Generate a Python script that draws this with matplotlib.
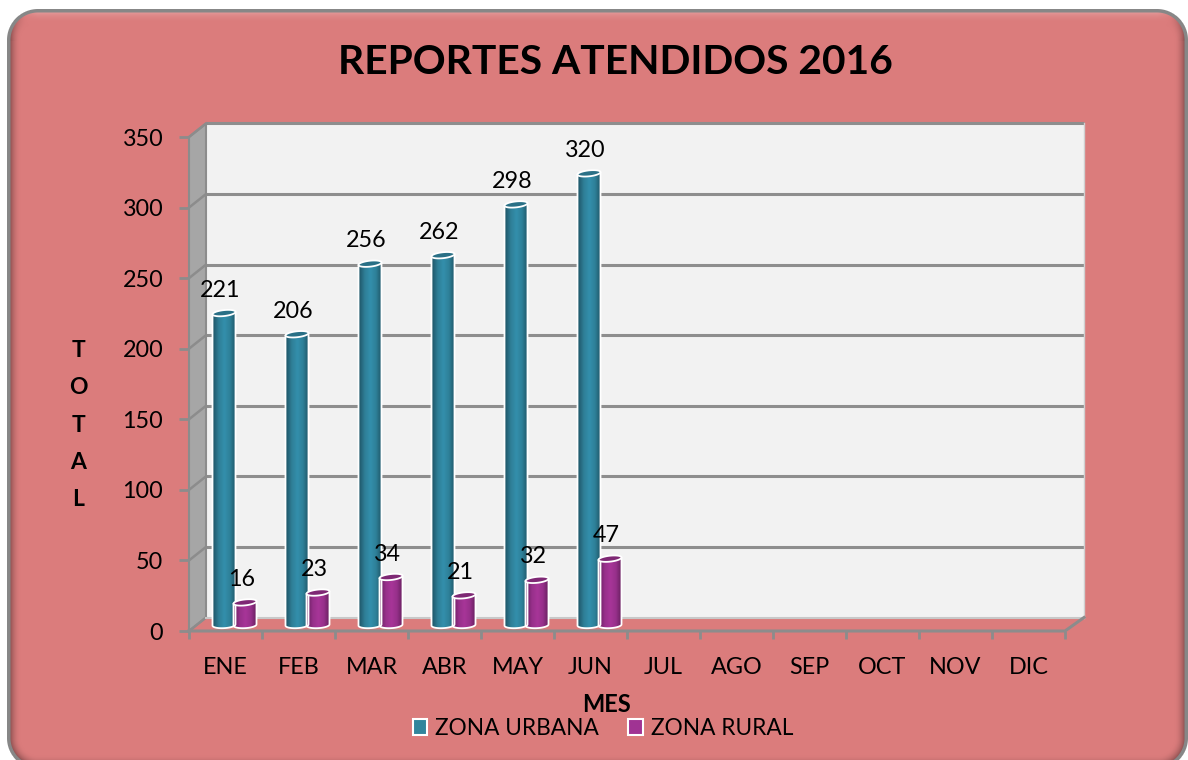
import numpy as np
import matplotlib
matplotlib.use("Agg")
import matplotlib.pyplot as plt
from matplotlib.colors import LinearSegmentedColormap
from matplotlib.patches import Patch, Polygon

months = ["ENE", "FEB", "MAR", "ABR", "MAY", "JUN", "JUL", "AGO", "SEP", "OCT", "NOV", "DIC"]
urbana = [221, 206, 256, 262, 298, 320]
rural = [16, 23, 34, 21, 32, 47]
yticks = [0, 50, 100, 150, 200, 250, 300, 350]
title = "REPORTES ATENDIDOS 2016"
series_names = ["ZONA URBANA", "ZONA RURAL"]

W, H = 1188, 760
PINK = np.array([219, 124, 124]) / 255
GRAY = "#8C8C8C"
plt.rcParams["font.family"] = ["Lato", "DejaVu Sans"]

fig = plt.figure(figsize=(W / 100, H / 100), dpi=100, facecolor="white")

# ---- bevelled rounded panel
bg = fig.add_axes([0, 0, 1, 1], zorder=0)
bg.axis("off")
yy, xx = np.mgrid[0:H, 0:W] + 0.5
x0, y0, x1, y1, r = 8, 10, 1187, 768, 30
cx, cy = (x0 + x1) / 2, (y0 + y1) / 2
qx = np.abs(xx - cx) - ((x1 - x0) / 2 - r)
qy = np.abs(yy - cy) - ((y1 - y0) / 2 - r)
sd = np.hypot(np.maximum(qx, 0), np.maximum(qy, 0)) + np.minimum(np.maximum(qx, qy), 0) - r
gy, gx = np.gradient(sd)
depth = np.clip(-sd / 13, 0, 1)
bevel = (1 - depth) ** 2
shade = np.where(gy < 0, -gy * 0.32 * bevel, -gy * 0.5 * bevel) - np.abs(gx) * 0.55 * bevel
shade = np.where(gy >= 0, -np.hypot(gx, gy) * 0.5 * bevel, shade)
img = np.zeros((H, W, 3)) + PINK
img = np.where(shade[..., None] > 0, img + (1 - img) * shade[..., None], img * (1 + shade[..., None]))
edge = np.clip(sd + 3, 0, 1)[..., None]
img = img * (1 - edge) + np.array([0.53, 0.53, 0.53]) * edge
out = np.clip(sd - 0.5, 0, 1)[..., None]
img = img * (1 - out) + out
bg.imshow(np.clip(img, 0, 1), extent=[0, W, H, 0], aspect="auto", interpolation="bilinear")

# ---- front-plane axes
L, R, T, B = 189, 1065, 137, 631
ax = fig.add_axes([L / W, 1 - B / H, (R - L) / W, (B - T) / H], zorder=1)
ax.patch.set_alpha(0)
ax.set_xlim(0, 12)
ax.set_ylim(0, 350)
pxx = 12 / (R - L)
pxy = 350 / (B - T)
for s in ax.spines.values():
    s.set_visible(False)

DX, DY = 17 * pxx, 13.5 * pxy
WALL_W = 12 + 19 * pxx - DX

# walls
ax.add_patch(plt.Rectangle((DX, DY), WALL_W, 350, fc="#F2F2F2", ec="none", zorder=1, clip_on=False))
ax.add_patch(Polygon([(0, 0), (DX, DY), (DX, 350 + DY), (0, 350)], fc="#A6A6A6", ec=GRAY, lw=1.5, zorder=1, clip_on=False))
for v in yticks:
    if v > 0:
        ax.plot([DX, DX + WALL_W], [v + DY, v + DY], color="#8E8E8E", lw=2.2, zorder=2, clip_on=False, solid_capstyle="butt")
    ax.plot([0, DX], [v, v + DY], color=GRAY, lw=1.8, zorder=2, clip_on=False)
ax.plot([DX, DX + WALL_W], [DY, DY], color="#C8C8C8", lw=1.5, zorder=2, clip_on=False)
ax.plot([DX + WALL_W, DX + WALL_W], [DY, 350 + DY], color="#D0D0D0", lw=1, zorder=2, clip_on=False)
ax.plot([0, 12, DX + WALL_W], [0, 0, DY], color=GRAY, lw=2.2, zorder=2, clip_on=False)

# ticks and labels
ax.set_yticks(yticks)
ax.set_yticklabels([str(v) for v in yticks])
ax.set_xticks(np.arange(13))
ax.set_xticklabels([])
ax.set_xticks(np.arange(12) + 0.5, labels=months, minor=True)
ax.tick_params(axis="y", which="major", length=7, width=2, color=GRAY, labelsize=16.8, pad=11.5, labelcolor="black")
ax.tick_params(axis="x", which="major", length=6, width=2, color=GRAY)
ax.tick_params(axis="x", which="minor", length=0, labelsize=16.8, pad=19, labelcolor="black")

# ---- cylinders
BAR_W = 23 * pxx
RY = 3.5 * pxy
TILT = 1.2 * pxy
BASE = 6 * pxy
teal_cm = LinearSegmentedColormap.from_list("t", ["#1F5668", "#2F7F97", "#338FAC", "#2E8098", "#1E5566"])
purp_cm = LinearSegmentedColormap.from_list("p", ["#6A1F60", "#97308A", "#A83598", "#96308A", "#651E5C"])
grad = np.linspace(0, 1, 64)[None, :]


def cylinder(xc, v, cm, top_color):
    xl = xc - BAR_W / 2
    top = v + BASE
    t = np.linspace(np.pi, 2 * np.pi, 40)
    ex = xc + BAR_W / 2 * np.cos(t)
    ey = BASE + RY * 0.9 * np.sin(t) + TILT * np.cos(t) * 0.5
    etop_y = top + TILT * np.array([-1, 1])
    xs = np.r_[xl, ex, xl + BAR_W]
    ys = np.r_[etop_y[0], ey, etop_y[1]]
    im = ax.imshow(grad, cmap=cm, extent=[xl, xl + BAR_W, 0, top + RY], aspect="auto", zorder=4, interpolation="bilinear")
    body = Polygon(np.c_[xs, ys], closed=True, fc="none", ec="white", lw=1.3, zorder=5, clip_on=False, joinstyle="round")
    ax.add_patch(body)
    im.set_clip_path(body)
    a = np.linspace(0, 2 * np.pi, 60)
    cap = np.c_[xc + BAR_W / 2 * np.cos(a), top + RY * 0.85 * np.sin(a) + TILT * np.cos(a)]
    ax.add_patch(Polygon(cap, closed=True, fc=top_color, ec="white", lw=1.3, zorder=6, clip_on=False))
    ax.text(xc - 3.5 * pxx, top + 23 * pxy, str(v), ha="center", va="center", fontsize=16.8, color="black", zorder=8)


for i, (u, ru) in enumerate(zip(urbana, rural)):
    c = i + 0.5
    cylinder(c - 1.5 * pxx, u, teal_cm, "#2A7086")
    cylinder(c + 19.5 * pxx, ru, purp_cm, "#7E2874")

ax.set_xlim(0, 12)
ax.set_ylim(0, 350)

# ---- titles
fig.text(615 / W, 1 - 62.5 / H, title, ha="center", va="center", fontsize=29.3, fontweight="bold", color="black")
ax.set_xlabel("MES", fontsize=17, fontweight="bold", labelpad=0)
ax.xaxis.set_label_coords((607 - L) / (R - L), -(704 - B) / (B - T), transform=ax.transAxes)
ax.xaxis.label.set_va("center")
ax.set_ylabel("T\nO\nT\nA\nL", rotation=0, fontsize=16.5, fontweight="bold", ha="center", va="center", linespacing=1.96)
ax.yaxis.set_label_coords((78 - L) / (R - L), (B - 425) / (B - T), transform=ax.transAxes)

# ---- legend
handles = [
    Patch(fc="#31859C", ec="white", lw=1.5, label=series_names[0]),
    Patch(fc="#A03393", ec="white", lw=1.5, label=series_names[1]),
]
leg = ax.legend(handles=handles, ncol=2, frameon=False, fontsize=16.3, loc="center",
                bbox_to_anchor=(603 / W, 1 - 728.5 / H), bbox_transform=fig.transFigure,
                handlelength=0.65, handleheight=0.65, handletextpad=0.35, columnspacing=1.3, borderpad=0)
leg.set_zorder(9)

fig.savefig("out.png", dpi=100)
